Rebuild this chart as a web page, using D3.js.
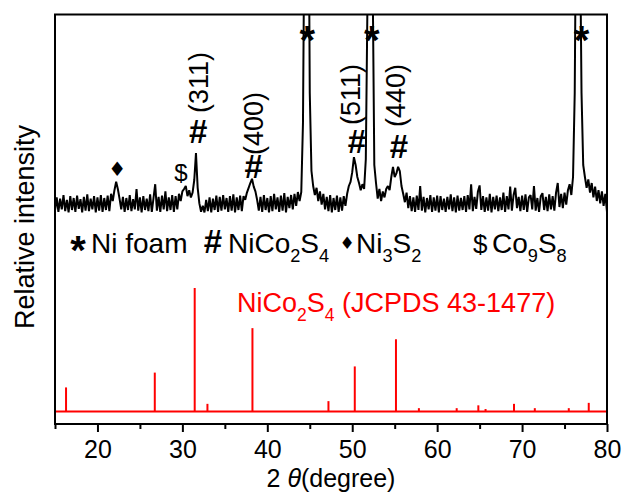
<!DOCTYPE html>
<html>
<head>
<meta charset="utf-8">
<script src="https://cdn.jsdelivr.net/npm/d3@7"></script>
<style>
  body{margin:0;background:#fff;}
  text{font-family:"Liberation Sans",Arial,Helvetica,sans-serif;fill:#000;}
</style>
</head>
<body>
<div id="chart"></div>
<script>
// measured pattern, 15-80 deg, one count every 0.2 deg (arbitrary units)
var thetaStart = 15, thetaStep = 0.2;
var xrdCounts = [
  4, 26, 2, 24, 6, 30, 3, 22, 1, 28,
  5, 25, 2, 29, 7, 23, 1, 27, 4, 31,
  3, 24, 6, 28, 1, 26, 4, 30, 2, 25,
  5, 29, 3, 32, 20, 38, 52, 40, 24, 6,
  27, 2, 25, 5, 30, 3, 23, 6, 40, 4,
  26, 1, 28, 5, 24, 3, 31, 2, 25, 48,
  4, 27, 2, 29, 6, 36, 3, 26, 5, 30,
  2, 28, 6, 32, 20, 36, 40, 45, 28, 38,
  26, 34, 55, 100, 42, 16, 2, 12, 1, 22,
  3, 26, 1, 24, 5, 29, 2, 27, 4, 30,
  6, 25, 2, 28, 4, 31, 1, 26, 5, 29,
  3, 28, 22, 34, 42, 50, 57, 44, 36, 22,
  4, 27, 2, 30, 5, 25, 1, 28, 3, 32,
  6, 26, 2, 29, 4, 33, 1, 27, 8, 30,
  6, 32, 12, 35, 20, 35, 150, 550, 950, 700,
  200, 70, 45, 30, 42, 20, 36, 14, 32, 6,
  27, 3, 30, 1, 25, 5, 29, 2, 26, 4,
  28, 12, 32, 45, 52, 68, 93, 80, 60, 50,
  38, 48, 40, 90, 360, 850, 820, 400, 80, 50,
  24, 40, 20, 36, 26, 40, 45, 38, 60, 77,
  60, 66, 77, 70, 45, 32, 18, 34, 8, 28,
  3, 26, 2, 29, 5, 45, 4, 27, 1, 25,
  6, 30, 2, 26, 4, 29, 1, 28, 5, 24,
  2, 27, 6, 31, 3, 26, 1, 29, 4, 25,
  5, 28, 2, 30, 6, 48, 3, 27, 7, 36,
  46, 5, 28, 2, 26, 4, 32, 1, 27, 6,
  29, 3, 26, 5, 34, 2, 28, 6, 44, 4,
  30, 42, 8, 27, 3, 29, 5, 31, 2, 26,
  30, 6, 45, 4, 25, 2, 28, 33, 5, 27,
  3, 31, 6, 28, 4, 34, 50, 10, 32, 8,
  34, 14, 38, 48, 30, 60, 200, 600, 900, 500,
  200, 80, 60, 42, 56, 34, 50, 26, 44, 20,
  38, 16, 36, 12, 32, 2
];

// JCPDS 43-1477 stick pattern
var refTheta = [16.3, 26.75, 31.45, 32.95, 38.25, 47.2, 50.3, 55.15, 57.85, 62.3, 64.85, 65.7, 69.05, 71.5, 75.5, 77.85];
var refIntensity = [19.5, 31.5, 100, 6.2, 67.5, 8.4, 36.5, 58.5, 2.7, 2.7, 5, 2, 6.2, 2.7, 2.7, 7];

var xTicks = [20, 30, 40, 50, 60, 70, 80];
var xMinorTicks = [15, 25, 35, 45, 55, 65, 75];

var hklLabels = ["(311)", "(400)", "(511)", "(440)"];
var hashTheta = [31.85, 38.4, 50.55, 55.5];
var niTheta = [44.7, 52.3, 77.0];

var width = 625, height = 496;
var x0 = 55, x1 = 607, y0 = 14.5, y1 = 424;

var svg = d3.select("#chart").append("svg")
  .attr("width", width)
  .attr("height", height);

var x = d3.scaleLinear().domain([15, 80]).range([x0, x1]);
var yXrd = d3.scaleLinear().domain([0, 100]).range([213, 153]);
var yRef = d3.scaleLinear().domain([0, 100]).range([411.5, 288]);

svg.append("clipPath").attr("id", "plotclip")
  .append("rect")
  .attr("x", x0).attr("y", y0)
  .attr("width", x1 - x0).attr("height", y1 - y0);

// black measured pattern
var xrdData = xrdCounts.map(function(c, i){ return [thetaStart + i * thetaStep, c]; });
var line = d3.line()
  .x(function(d){ return x(d[0]); })
  .y(function(d){ return yXrd(d[1]); });

svg.append("path")
  .datum(xrdData)
  .attr("clip-path", "url(#plotclip)")
  .attr("d", line)
  .attr("fill", "none")
  .attr("stroke", "#000")
  .attr("stroke-width", 2)
  .attr("stroke-linejoin", "bevel");

// red reference sticks
var refG = svg.append("g").attr("clip-path", "url(#plotclip)");
refG.append("line")
  .attr("x1", x(15)).attr("x2", x(80))
  .attr("y1", yRef(0)).attr("y2", yRef(0))
  .attr("stroke", "#ff0000").attr("stroke-width", 2);

refG.selectAll("line.stick")
  .data(refTheta)
  .enter().append("line")
  .attr("class", "stick")
  .attr("x1", function(d){ return x(d); })
  .attr("x2", function(d){ return x(d); })
  .attr("y1", yRef(0))
  .attr("y2", function(d, i){ return yRef(refIntensity[i]); })
  .attr("stroke", "#ff0000")
  .attr("stroke-width", 2);

// peak annotations
svg.selectAll("text.hash")
  .data(hashTheta)
  .enter().append("text")
  .attr("class", "hash")
  .attr("x", function(d){ return x(d); })
  .attr("y", function(d, i){ return [143, 178, 153, 158][i]; })
  .attr("text-anchor", "middle")
  .attr("style", "font-size:33px;font-weight:bold")
  .text("#");

var hklX = [207.5, 262.5, 359.5, 405];
var hklY = [113, 155, 125, 127];
svg.selectAll("text.hkl")
  .data(hklLabels)
  .enter().append("text")
  .attr("class", "hkl")
  .attr("transform", function(d, i){ return "translate(" + hklX[i] + "," + hklY[i] + ") rotate(-90)"; })
  .attr("style", "font-size:27px")
  .text(function(d){ return d; });

svg.selectAll("text.star")
  .data(niTheta)
  .enter().append("text")
  .attr("class", "star")
  .attr("x", function(d){ return x(d); })
  .attr("y", 31 + 23)
  .attr("text-anchor", "middle")
  .attr("style", "font-size:40px;font-weight:bold")
  .text("*");

svg.append("text")
  .attr("x", x(22.32)).attr("y", 168.5)
  .attr("text-anchor", "middle")
  .attr("dominant-baseline", "central")
  .attr("style", "font-size:20px;font-family:'DejaVu Sans'")
  .text("\u2666");

svg.append("text")
  .attr("x", x(29.84)).attr("y", 181)
  .attr("text-anchor", "middle")
  .attr("style", "font-size:24px")
  .text("$");

// formula helper: digits become subscripts, returns true if it ends lowered
function addFormula(t, str, size) {
  var down = false;
  str.split(/(\d+)/).forEach(function(p){
    if (p === "") return;
    if (/^\d+$/.test(p)) {
      t.append("tspan").attr("dy", size * 0.33).attr("style", "font-size:" + (size * 0.65) + "px").text(p);
      down = true;
    } else {
      t.append("tspan").attr("dy", down ? -size * 0.33 : 0).text(p);
      down = false;
    }
  });
  return down;
}

// legend row
var legY = 253;
svg.append("text")
  .attr("x", 78).attr("y", legY + 11)
  .attr("text-anchor", "middle")
  .attr("style", "font-size:40px;font-weight:bold")
  .text("*");
svg.append("text").attr("x", 91).attr("y", legY).attr("style", "font-size:28px").text("Ni foam");

svg.append("text").attr("x", 213).attr("y", legY).attr("text-anchor", "middle")
  .attr("style", "font-size:33px;font-weight:bold").text("#");
addFormula(svg.append("text").attr("x", 228).attr("y", legY).attr("style", "font-size:28px"), "NiCo2S4", 28);

svg.append("text").attr("x", 347).attr("y", legY - 10)
  .attr("text-anchor", "middle").attr("dominant-baseline", "central")
  .attr("style", "font-size:17px;font-family:'DejaVu Sans'").text("\u2666");
addFormula(svg.append("text").attr("x", 356).attr("y", legY).attr("style", "font-size:28px"), "Ni3S2", 28);

svg.append("text").attr("x", 473).attr("y", legY).attr("style", "font-size:26px").text("$");
addFormula(svg.append("text").attr("x", 492).attr("y", legY).attr("style", "font-size:28px"), "Co9S8", 28);

// red reference label
var redT = svg.append("text").attr("x", 237).attr("y", 312)
  .attr("style", "font-size:27px;fill:#ff0000");
var low = addFormula(redT, "NiCo2S4", 27);
redT.append("tspan").attr("dy", low ? -27 * 0.33 : 0).text(" (JCPDS 43-1477)");

// axes
var axisG = svg.append("g").attr("transform", "translate(0," + y1 + ")");
axisG.call(d3.axisBottom(x).tickValues(xMinorTicks).tickSize(5).tickFormat(""));
var majorG = svg.append("g").attr("transform", "translate(0," + y1 + ")");
majorG.call(d3.axisBottom(x).tickValues(xTicks).tickSize(8).tickPadding(8).tickFormat(d3.format("d")));
majorG.selectAll("text").attr("style", "font-size:25px");
svg.selectAll(".domain").remove();
svg.selectAll(".tick line").attr("stroke", "#000").attr("stroke-width", 2);

svg.append("rect")
  .attr("x", x0).attr("y", y0)
  .attr("width", x1 - x0).attr("height", y1 - y0)
  .attr("fill", "none")
  .attr("stroke", "#000")
  .attr("stroke-width", 2);

// axis titles
var xt = svg.append("text")
  .attr("x", (x0 + x1) / 2).attr("y", 487)
  .attr("text-anchor", "middle")
  .attr("style", "font-size:25px");
xt.append("tspan").text("2 ");
xt.append("tspan").attr("font-style", "italic").text("\u03b8");
xt.append("tspan").text("(degree)");

svg.append("text")
  .attr("transform", "translate(34,227) rotate(-90)")
  .attr("text-anchor", "middle")
  .attr("style", "font-size:27px")
  .text("Relative intensity");
</script>
</body>
</html>
